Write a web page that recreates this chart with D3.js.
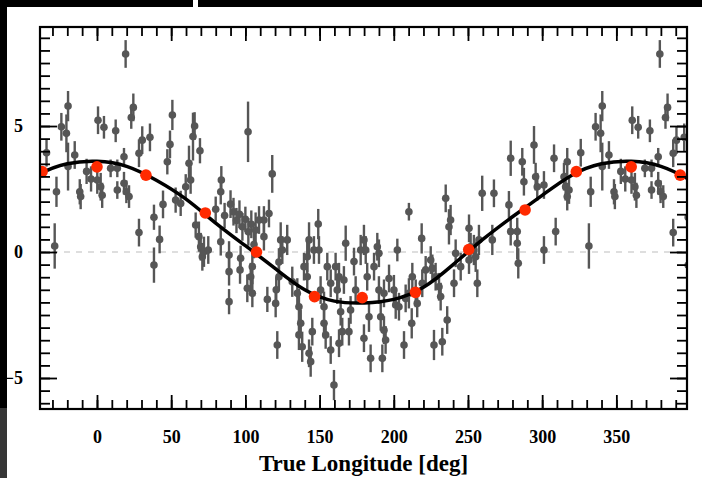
<!DOCTYPE html>
<html>
<head>
<meta charset="utf-8">
<script src="https://cdn.jsdelivr.net/npm/d3@7"></script>
<style>
    body { margin: 0; background: #fff; }
    svg { display: block; }
    .tick text { font-family: "Liberation Serif", "Times New Roman", serif; font-weight: bold; font-size: 18px; fill: #000; }
    .tick line { stroke: #000; stroke-width: 1.8; }
</style>
</head>
<body>
<svg id="chart" width="702" height="478"></svg>
<script>
// measured points: [true longitude (deg), value, error]
var points = [
    [0.7, 5.23, 0.55], [0.2, 2.86, 0.55], [2.5, 2.59, 0.55], [3.5, 2.25, 0.5],
    [4.7, 4.95, 0.45], [9.2, 3.32, 0.35], [12.6, 4.81, 0.45], [13.7, 3.32, 0.35],
    [13.7, 2.46, 0.35], [18.2, 3.78, 0.35], [18.2, 2.73, 0.45], [19.3, 7.86, 0.55],
    [19.8, 2.39, 0.45], [21.6, 2.2, 0.45], [23.1, 5.34, 0.45], [24.5, 5.74, 0.55],
    [28.3, 3.92, 0.55], [28.3, 0.77, 0.55], [30.5, 4.44, 0.55], [35.7, 4.55, 0.55],
    [38.4, 1.38, 0.5], [38.4, -0.52, 0.7], [42.2, 0.5, 0.55], [44.5, 1.89, 0.55],
    [47.4, 3.58, 0.5], [49.2, 4.27, 0.55], [50.8, 5.44, 0.6], [53, 2.06, 0.5],
    [56.4, 1.93, 0.5], [59.8, 2.59, 0.5], [62, 3.52, 0.7], [63.1, 2.86, 0.55],
    [64.7, 4.58, 0.95], [65.8, 5.0, 0.55], [66.5, 1.07, 0.5], [68.7, 0.61, 0.6],
    [69.4, 4.02, 0.5], [69.9, 0.21, 0.55], [71, -0.19, 0.55], [72.1, 0.01, 0.6],
    [75, 0.08, 0.55], [80, 1.7, 0.5], [83.8, 2.86, 0.55], [83.4, 2.39, 0.5],
    [83.4, 0.41, 0.55], [86, 1.45, 0.5], [89, -0.12, 0.55], [89, -0.78, 0.55],
    [89, -1.97, 0.5], [90, 1.9, 0.55], [92, 1.6, 0.55], [94, 1.25, 0.5],
    [96, 1.5, 0.55], [98, 1.0, 0.55], [100, 1.3, 0.5], [102, 0.8, 0.55],
    [104, 1.1, 0.55], [96.4, -0.71, 0.55], [96.8, -0.25, 0.5], [101.3, -1.44, 0.55],
    [101.8, 4.77, 1.2], [103.6, -0.98, 0.55], [104.7, -0.58, 0.7], [104.7, -1.64, 0.55],
    [105.8, 0.3, 0.55], [106.9, 0.87, 0.7], [109.2, 1.27, 0.55], [112.5, 0.61, 0.55],
    [112.5, 1.27, 0.55], [114.8, -1.88, 0.5], [115.9, 1.53, 0.55], [118.1, 3.1, 0.75],
    [120.4, -2.04, 0.55], [120.8, -1.5, 0.5], [121.5, -3.69, 0.55], [122.6, -0.98, 0.55],
    [122.6, -0.4, 0.55], [123.8, 0.48, 0.7], [124.9, 0.08, 0.55], [128.2, 0.48, 0.6],
    [131.6, -1.18, 0.6], [135, -1.64, 0.6], [136.1, -2.17, 0.7], [136.1, -3.29, 0.6],
    [137.3, -2.83, 0.55], [138.3, -3.76, 0.6], [139.5, -0.58, 0.55], [141.7, -0.19, 0.6],
    [141.7, -0.98, 0.55], [142.9, 0.48, 0.7], [142.9, -4.02, 0.55], [144, -4.35, 0.6],
    [145.1, -3.16, 0.55], [146.2, 0.08, 0.55], [149.1, 1.11, 0.6], [149.6, 0.08, 0.55],
    [150.7, -1.51, 0.55], [153, -2.17, 0.6], [153, -2.83, 0.6], [154.1, -3.29, 0.55],
    [155.2, -0.58, 0.55], [157.5, -3.89, 0.55], [157.5, -1.24, 0.55], [159.7, -5.28, 0.6],
    [160.8, -0.58, 0.55], [161.9, -1.51, 0.55], [163.1, -0.98, 0.55], [163.1, -3.62, 0.55],
    [164.2, -2.37, 0.55], [165.3, -3.16, 0.55], [166.4, -1.11, 0.55], [167.6, 0.35, 0.7],
    [169.8, -3.16, 0.55], [170.9, -2.3, 0.55], [173.2, -0.38, 0.55], [174.3, -1.51, 0.55],
    [177.7, 0.08, 0.6], [179.9, 0.48, 0.6], [179.9, -3.42, 0.55], [181.1, 0.08, 0.55],
    [182.1, -0.98, 0.55], [183.3, -2.57, 0.6], [184.4, -4.22, 0.55], [186.7, -0.58, 0.55],
    [188.9, 0.21, 0.55], [190, -0.05, 0.55], [190, -1.51, 0.55], [191.2, -2.57, 0.55],
    [192.3, -4.22, 0.55], [193.4, -3.1, 0.55], [194.5, -3.49, 0.55], [193.4, -1.64, 0.55],
    [196.8, -1.05, 0.55], [200.1, -1.51, 0.6], [202.4, 0.08, 0.45], [201.3, -2.1, 0.55],
    [203.5, -2.17, 0.55], [206.9, -3.69, 0.55], [208, -1.84, 0.55], [210.2, 1.6, 0.35],
    [210.2, -1.64, 0.6], [212.1, -2.83, 0.6], [212.5, -0.98, 0.55], [214.8, -1.64, 0.55],
    [215.8, -2.04, 0.55], [218.8, 0.54, 0.6], [219.2, -1.24, 0.55], [221.5, -0.71, 0.55],
    [224.9, -0.32, 0.55], [226, -0.65, 0.55], [227.1, -3.69, 0.6], [228.2, -0.98, 0.55],
    [230.5, -1.38, 0.55], [231.6, -1.77, 0.55], [232.7, -3.56, 0.55], [236, -2.7, 0.55],
    [235, 2.13, 0.55], [237.2, 1.0, 0.7], [238.3, 1.27, 0.6], [240.6, -1.24, 0.55],
    [241.7, -0.05, 0.55], [245.1, -0.58, 0.55], [250.7, 0.94, 0.55], [251.8, 0.21, 0.55],
    [250.7, -0.32, 0.55], [254, 0.08, 0.6], [255.2, -0.19, 0.6], [256.3, -1.24, 0.55],
    [257.4, 0.48, 0.6], [259.6, 2.33, 0.7], [266.4, 0.48, 0.6], [267.5, 2.33, 0.55],
    [277.6, 1.87, 0.55], [278.8, 3.72, 0.7], [278.8, 0.81, 0.55], [283.2, 0.81, 0.55],
    [283.2, 0.35, 0.65], [283.9, -0.45, 0.6], [286.6, 3.58, 0.55], [287.7, 2.79, 0.55],
    [294.5, 4.25, 0.75], [295.6, 2.99, 0.55], [296.7, 2.59, 0.55], [301.2, 2.66, 0.55],
    [301.2, 0.08, 0.55], [308, 3.72, 0.55], [309.1, 0.81, 0.55], [314.7, 2.99, 0.55],
    [315.8, 2.59, 0.55], [316.9, 3.58, 0.55], [316.9, 2.2, 0.55], [318.1, 2.46, 0.55],
    [326, 3.94, 0.55], [331.5, 0.24, 0.9], [332.7, 2.39, 0.6], [336, 4.97, 0.55],
    [339.4, 4.71, 0.75], [340.5, 5.79, 0.6], [340.5, 3.39, 0.95], [345, 3.85, 0.55],
    [348.4, 2.39, 0.5], [349, 2.2, 0.5], [353, 3.2, 0.5], [356, 2.9, 0.5]
];

// binned means (red)
var binLon = [0, 33, 73, 107.5, 146.6, 178.7, 214.6, 250.5, 288.5, 323];
var binVal = [3.38, 3.05, 1.55, 0.0, -1.77, -1.81, -1.6, 0.1, 1.67, 3.19];

// model curve, read every 20 deg
var curveLon = [0, 20, 40, 60, 80, 100, 120, 140, 160, 180, 200, 220, 240, 260, 280, 300, 320, 340];
var curveVal = [3.6, 3.4, 2.85, 2.1, 1.15, 0.25, -0.65, -1.5, -1.95, -2.02, -1.88, -1.4, -0.5, 0.5, 1.4, 2.25, 3.05, 3.5];

var xMajor = [0, 50, 100, 150, 200, 250, 300, 350];
var yMajor = [-5, 0, 5];

var xTitle = "True Longitude [deg]";

function drawChart(){
    var svg = d3.select('#chart');
    var left = 40, right = 687, top = 27, bottom = 409;
    var shifts = [-360, 0, 360];

    var x = d3.scaleLinear().domain([-38.4, 397.6]).range([left, right]);
    var y = d3.scaleLinear().domain([-6.23, 8.93]).range([bottom, top]);

    // screen edges from the capture
    svg.append('rect').attr('x', 0).attr('y', 0).attr('width', 702).attr('height', 7).attr('fill', '#000');
    svg.append('rect').attr('x', 193).attr('y', 0).attr('width', 5).attr('height', 7).attr('fill', '#fff');
    svg.append('rect').attr('x', 0).attr('y', 0).attr('width', 7).attr('height', 408).attr('fill', '#000');
    svg.append('rect').attr('x', 0).attr('y', 408).attr('width', 7).attr('height', 70).attr('fill', '#363636');

    svg.append('clipPath').attr('id', 'plotclip')
        .append('rect')
        .attr('x', left).attr('y', top)
        .attr('width', right - left).attr('height', bottom - top);

    var g = svg.append('g').attr('clip-path', 'url(#plotclip)');

    // zero line
    g.append('line')
        .attr('x1', left).attr('x2', right)
        .attr('y1', y(0)).attr('y2', y(0))
        .attr('stroke', '#d4d4d4')
        .attr('stroke-width', 1.5)
        .attr('stroke-dasharray', '6,6');

    // points repeated one period on each side
    var data = [];
    shifts.forEach(function(s){
        points.forEach(function(p){ data.push({lon: p[0] + s, val: p[1], err: p[2]}); });
    });

    g.selectAll('line.err').data(data).enter().append('line')
        .classed('err', true)
        .attr('x1', function(d){ return x(d.lon); })
        .attr('x2', function(d){ return x(d.lon); })
        .attr('y1', function(d){ return y(d.val - d.err); })
        .attr('y2', function(d){ return y(d.val + d.err); })
        .attr('stroke', '#565656')
        .attr('stroke-width', 2.4);

    g.selectAll('circle.pt').data(data).enter().append('circle')
        .classed('pt', true)
        .attr('cx', function(d){ return x(d.lon); })
        .attr('cy', function(d){ return y(d.val); })
        .attr('r', 3.8)
        .attr('fill', '#565656');

    // model curve
    var curve = [];
    shifts.forEach(function(s){
        curveLon.forEach(function(l, i){ curve.push([l + s, curveVal[i]]); });
    });
    g.append('path')
        .datum(curve)
        .attr('fill', 'none')
        .attr('stroke', '#000')
        .attr('stroke-width', 3.5)
        .attr('d', d3.line()
            .x(function(d){ return x(d[0]); })
            .y(function(d){ return y(d[1]); })
            .curve(d3.curveNatural));

    var bins = [];
    shifts.forEach(function(s){
        binLon.forEach(function(l, i){ bins.push([l + s, binVal[i]]); });
    });
    g.selectAll('circle.bin').data(bins).enter().append('circle')
        .classed('bin', true)
        .attr('cx', function(d){ return x(d[0]); })
        .attr('cy', function(d){ return y(d[1]); })
        .attr('r', 5.8)
        .attr('fill', '#ff2a00');

    // ticks, all pointing inward
    var xMinor = d3.range(-30, 400, 10);
    var yMinor = d3.range(-6, 9, 0.5);

    function axis(a, pos){
        var ax = svg.append('g').attr('transform', pos).call(a);
        ax.select('.domain').remove();
        return ax;
    }
    axis(d3.axisBottom(x).tickValues(xMinor).tickSize(-9).tickFormat(''), 'translate(0,' + bottom + ')');
    axis(d3.axisBottom(x).tickValues(xMajor).tickSize(-14).tickPadding(21).tickFormat(d3.format('d')), 'translate(0,' + bottom + ')');
    axis(d3.axisTop(x).tickValues(xMinor).tickSize(-9).tickFormat(''), 'translate(0,' + top + ')');
    axis(d3.axisTop(x).tickValues(xMajor).tickSize(-14).tickFormat(''), 'translate(0,' + top + ')');

    axis(d3.axisLeft(y).tickValues(yMinor).tickSize(-10).tickFormat(''), 'translate(' + left + ',0)');
    axis(d3.axisLeft(y).tickValues(yMajor).tickSize(-17).tickPadding(17).tickFormat(d3.format('d')), 'translate(' + left + ',0)');
    axis(d3.axisRight(y).tickValues(yMinor).tickSize(-10).tickFormat(''), 'translate(' + right + ',0)');
    axis(d3.axisRight(y).tickValues(yMajor).tickSize(-17).tickFormat(''), 'translate(' + right + ',0)');

    // frame
    svg.append('rect')
        .attr('x', left).attr('y', top)
        .attr('width', right - left).attr('height', bottom - top)
        .attr('fill', 'none')
        .attr('stroke', '#000')
        .attr('stroke-width', 2.2);

    svg.append('text')
        .attr('x', (left + right) / 2)
        .attr('y', 471)
        .attr('text-anchor', 'middle')
        .style('font-family', '"Liberation Serif", "Times New Roman", serif')
        .style('font-weight', 'bold')
        .style('font-size', '23px')
        .text(xTitle);
}

drawChart();
</script>
</body>
</html>
